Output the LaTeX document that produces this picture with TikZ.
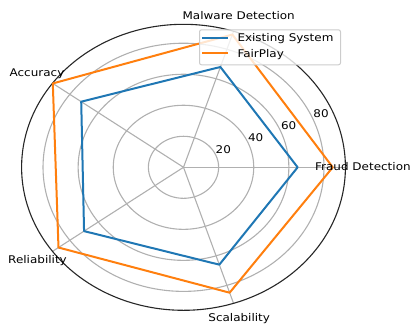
\documentclass[tikz,border=0pt]{standalone}
\usepackage{fontspec}
\setmainfont{DejaVu Sans}
\usepackage{graphicx}
\definecolor{tabblue}{HTML}{1F77B4}
\definecolor{taborange}{HTML}{FF7F0E}
\definecolor{gridgray}{HTML}{B0B0B0}
\definecolor{legedge}{HTML}{CCCCCC}
\newcommand{\hstretch}[1]{\scalebox{1.13}[1]{#1}}
\begin{document}
\begin{tikzpicture}[x=1pt,y=1pt,
  gridline/.style={draw=gridgray, line width=1.1pt},
  spine/.style={draw=black!85, line width=1.1pt},
  series/.style={line width=2pt, line join=round},
  lbl/.style={font=\fontsize{10.6}{12}\selectfont, inner sep=0pt, text=black},
  legendbox/.style={draw=legedge, fill=white, fill opacity=0.8, rounded corners=2pt, line width=1pt, inner sep=0pt, minimum width=141pt, minimum height=35pt, anchor=north west},
]
\useasboundingbox (0,0) rectangle (411,325);
\def\cx{183.5}\def\cy{157.7}\def\sx{1.756}\def\sy{1.551}
\coordinate (o) at (\cx,\cy);
% grid circles
\foreach \r in {20,40,60,80}
  \draw[gridline] (o) ellipse [x radius={\r*\sx}, y radius={\r*\sy}];
% spokes
\foreach \a [count=\i] in {0,72,144,216,288}
  \coordinate (s\i) at ({\cx+92.2*\sx*cos(\a)},{\cy+92.2*\sy*sin(\a)});
\foreach \i in {1,...,5}
  \draw[gridline] (o) -- (s\i);
% outer spine
\draw[spine] (o) ellipse [x radius=161.9, y radius=143];
% data
\foreach \v/\a [count=\i] in {65/0,68/72,72/144,70/216,66/288}
  \coordinate (e\i) at ({\cx+\v*\sx*cos(\a)},{\cy+\v*\sy*sin(\a)});
\foreach \v/\a [count=\i] in {85/0,90/72,92/144,88/216,85/288}
  \coordinate (f\i) at ({\cx+\v*\sx*cos(\a)},{\cy+\v*\sy*sin(\a)});
\draw[series, tabblue] (e1) -- (e2) -- (e3) -- (e4) -- (e5) -- cycle;
\draw[series, taborange] (f1) -- (f2) -- (f3) -- (f4) -- (f5) -- cycle;
% radial tick labels
\node[lbl, anchor=base] (t20) at (223.3,171.7) {\hstretch{20}};
\node[lbl, anchor=base] (t40) at (255.7,183.7) {\hstretch{40}};
\node[lbl, anchor=base] (t60) at (288.7,195.7) {\hstretch{60}};
\node[lbl, anchor=base] (t80) at (321,207.7) {\hstretch{80}};
% axis labels
\node[lbl, anchor=base west] (fraud) at (315,155) {\hstretch{Fraud Detection}};
\node[lbl, anchor=base] (malware) at (238.7,306) {\hstretch{Malware Detection}};
\node[lbl, anchor=base] (acc) at (37,248.3) {\hstretch{Accuracy}};
\node[lbl, anchor=base] (rel) at (37.5,61.7) {\hstretch{Reliability}};
\node[lbl, anchor=base] (scal) at (239.2,3.3) {\hstretch{Scalability}};
% legend
\node[legendbox] (legend) at (199,295.7) {};
\coordinate (lb1) at (202.3,287.3);
\coordinate (lb2) at (228.3,287.3);
\coordinate (lo1) at (202.3,271.7);
\coordinate (lo2) at (228.3,271.7);
\draw[series, draw=tabblue] (lb1) -- (lb2);
\draw[series, draw=taborange] (lo1) -- (lo2);
\node[lbl, anchor=base west] (legE) at (237.3,283.3) {\hstretch{Existing System}};
\node[lbl, anchor=base west] (legF) at (237.3,267.7) {\hstretch{FairPlay}};
\end{tikzpicture}
\end{document}
